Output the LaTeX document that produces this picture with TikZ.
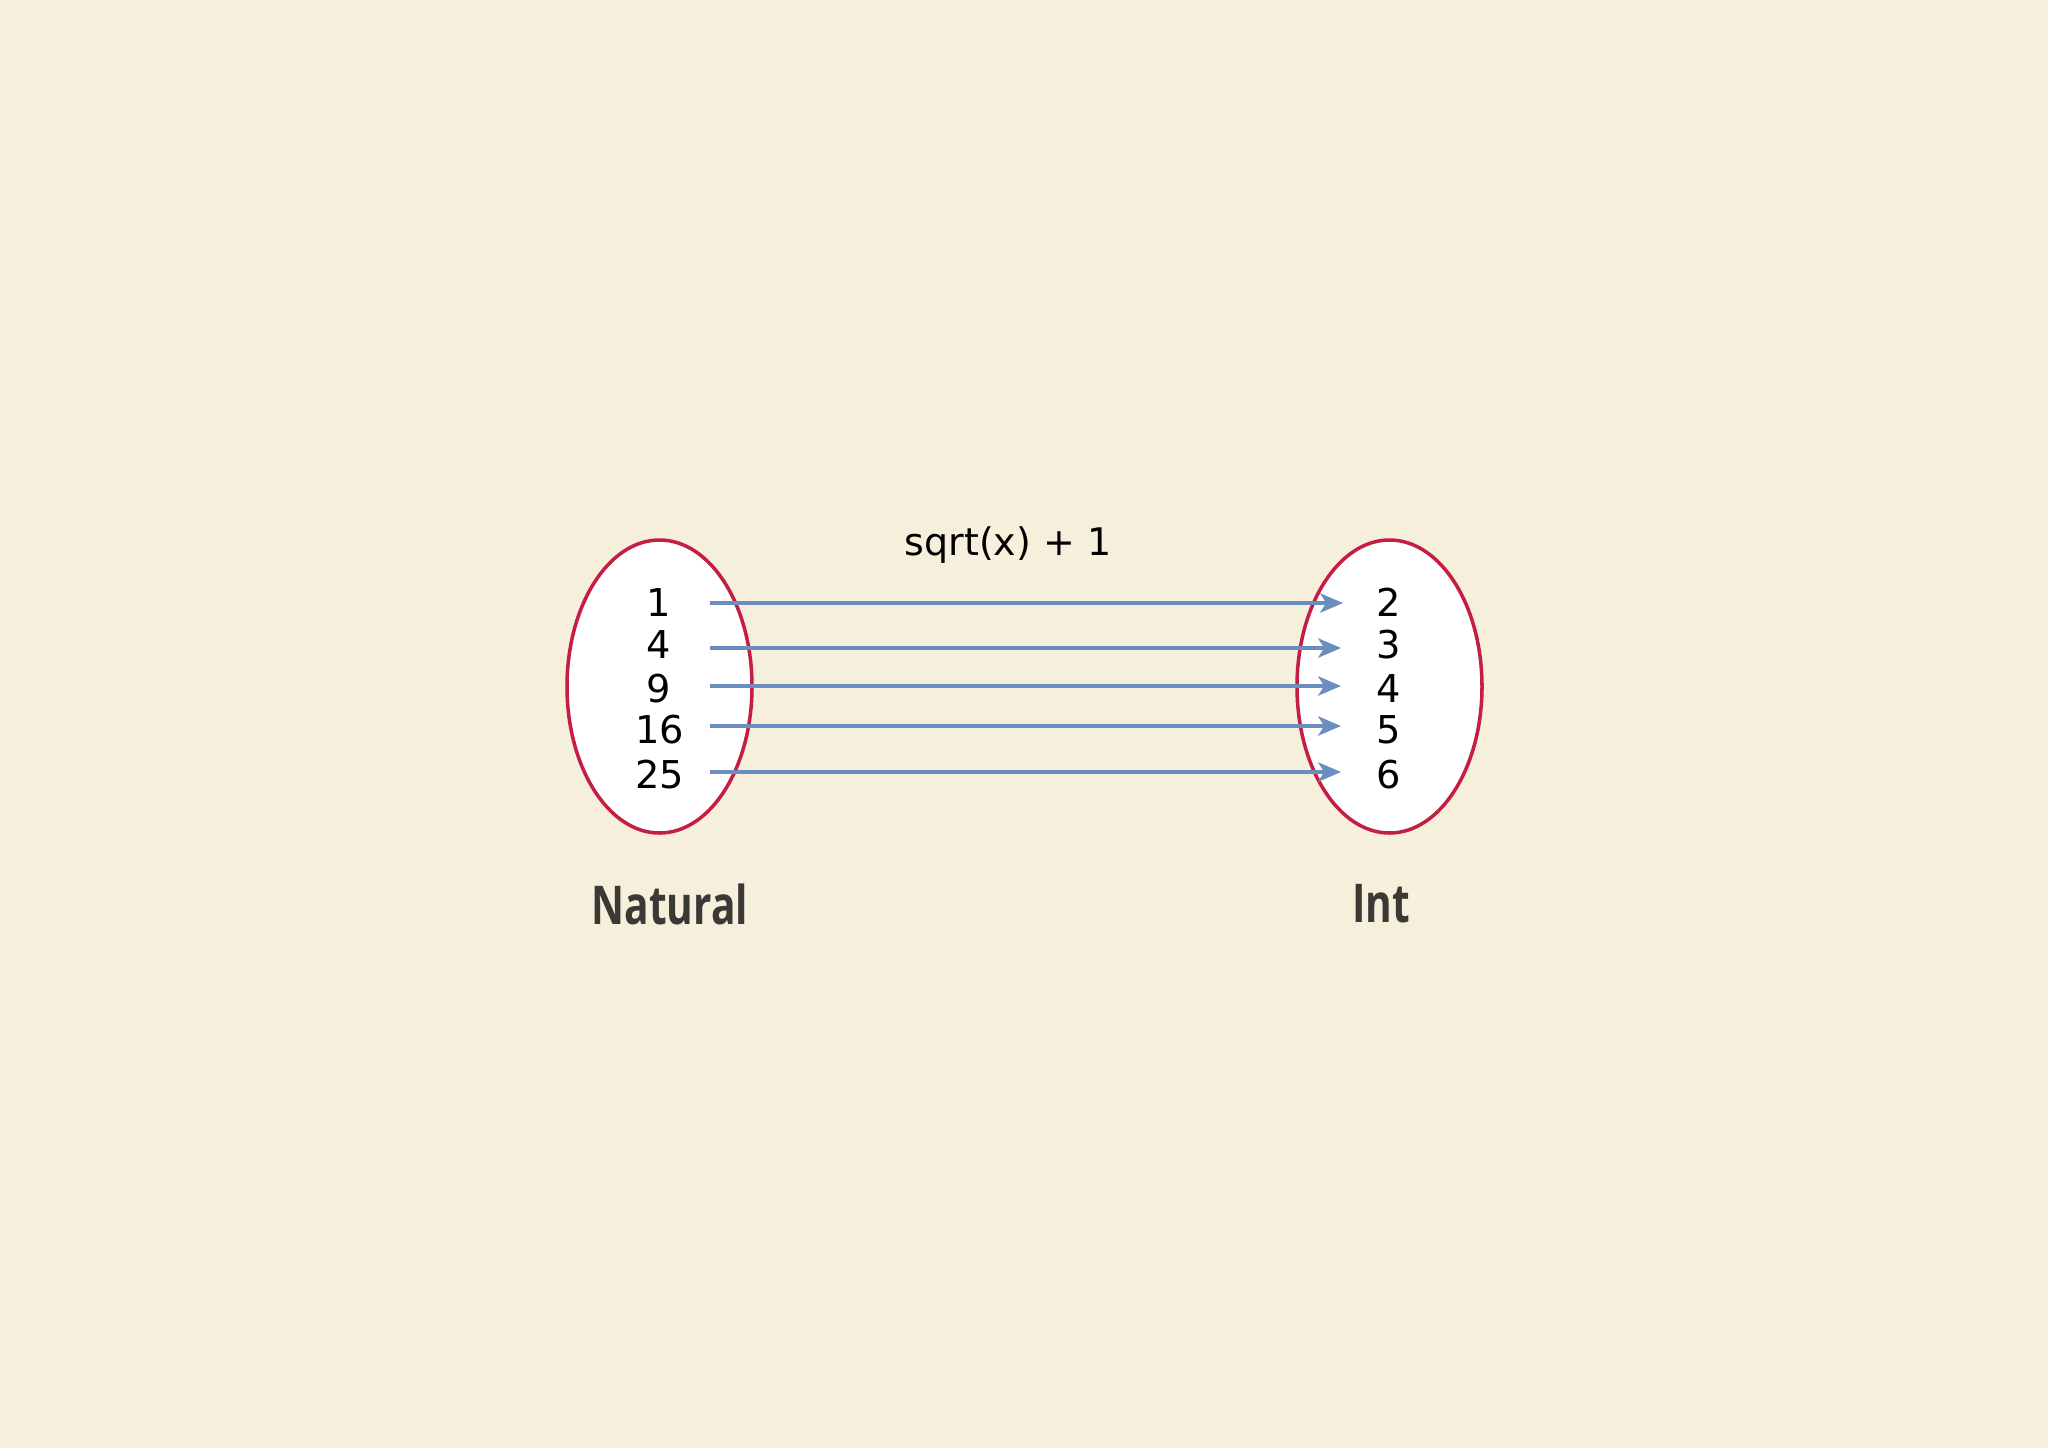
\documentclass[tikz,border=0pt]{standalone}
\usepackage{fontspec}
\setmainfont{DejaVu Sans}
\newfontfamily\labfont{Open Sans}
\usetikzlibrary{arrows.meta,shapes.geometric}
\definecolor{bgc}{HTML}{F5EFDB}
\definecolor{setred}{HTML}{C41E45}
\definecolor{arrblue}{HTML}{6C8EBF}
\definecolor{labgray}{HTML}{3A3935}
\begin{document}
\begin{tikzpicture}[x=0.01cm,y=-0.01cm,
  setbox/.style={draw=setred,line width=1pt,fill=white,ellipse,minimum width=185*0.01cm,minimum height=293*0.01cm,inner sep=0pt},
  num/.style={anchor=base,font=\fontsize{10.9}{12}\selectfont,text=black,inner sep=0pt},
  maparrow/.style={draw=arrblue,line width=1pt,-{Stealth[length=6.5pt,width=5.5pt,inset=1.7pt]}},
  setlabel/.style={font=\labfont\bfseries\fontsize{15.2}{17}\selectfont,text=labgray,inner sep=0pt},
  title/.style={font=\fontsize{10.8}{12}\selectfont,text=black,inner sep=0pt}]
\fill[bgc] (0,0) rectangle (2048,1448);
\useasboundingbox (0,0) rectangle (2048,1448);
\node[setbox] (dom) at (659.5,686.5) {};
\node[setbox] (cod) at (1389.5,686.5) {};
\node[num] (l1) at (659,616) {1};
\node[num] (l2) at (659,658) {4};
\node[num] (l3) at (659,702) {9};
\node[num] (l4) at (660,743) {16};
\node[num] (l5) at (660,788) {25};
\node[num] (r1) at (1389,616) {2};
\node[num] (r2) at (1389,658) {3};
\node[num] (r3) at (1389,702) {4};
\node[num] (r4) at (1389,743) {5};
\node[num] (r5) at (1389,788) {6};
\coordinate (s1) at (710,603);
\coordinate (s2) at (710,648);
\coordinate (s3) at (710,686);
\coordinate (s4) at (710,726);
\coordinate (s5) at (710,772);
\coordinate (e1) at (1343,603);
\coordinate (e2) at (1341,648);
\coordinate (e3) at (1341,686);
\coordinate (e4) at (1341,726);
\coordinate (e5) at (1341,772);
\foreach \i in {1,...,5} \draw[maparrow] (s\i) -- (e\i);
\node[title] (fn) at (1008,545) {sqrt(x) + 1};
\node[setlabel] (dl) at (670,904) {\scalebox{0.76}[1]{Natural}};
\node[setlabel] (cl) at (1381,904) {\scalebox{0.76}[1]{Int}};
\end{tikzpicture}
\end{document}
